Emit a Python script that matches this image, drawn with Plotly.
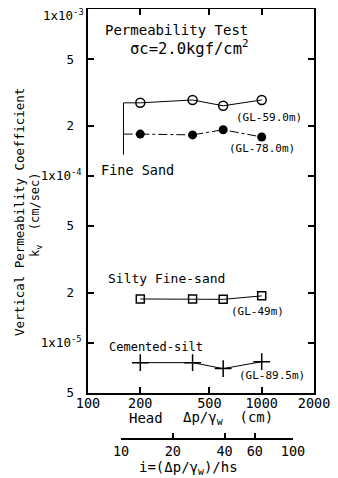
import plotly.graph_objects as go

# ---- data ----
head_cm = [200, 400, 600, 1000]
kv_gl59 = [2.74e-4, 2.85e-4, 2.63e-4, 2.85e-4]     # Fine sand, open circles
kv_gl78 = [1.78e-4, 1.76e-4, 1.89e-4, 1.71e-4]     # Fine sand, filled circles
kv_gl49 = [1.83e-5, 1.83e-5, 1.82e-5, 1.91e-5]     # Silty fine-sand, squares
kv_gl895 = [7.6e-6, 7.6e-6, 7.0e-6, 7.7e-6]        # Cemented-silt, crosses

bracket_head = 160          # Fine Sand bracket
bracket_kv_bottom = 1.34e-4

x_tickvals = [100, 200, 500, 1000, 2000]
x_ticktext = ["100", "200", "500", "1000", "2000"]
y_tickvals = [5e-6, 1e-5, 2e-5, 5e-5, 1e-4, 2e-4, 5e-4, 1e-3]
y_ticktext = ["5\u00a0", "1x10<sup>-5</sup>", "2\u00a0", "5\u00a0",
              "1x10<sup>-4</sup>", "2\u00a0", "5\u00a0", "1x10<sup>-3</sup>"]
i_tickvals = [10, 20, 40, 60, 100]
i_ticktext = ["10", "20", "40", "60", "100"]

FONT = "DejaVu Sans Mono"
OFF = 8                      # page body margin
W, H = 330, 470
L, T, B = 88 - OFF, 9 - OFF, 0
R = W - (314 - OFF)
PW, PH = W - L - R, H - T - B


def px(xp, yp):
    """reference-page pixels -> paper coordinates"""
    return (xp - OFF - L) / PW, (H - (yp - OFF)) / PH


fig = go.Figure()

line = dict(color="black", width=1)
# bracket for Fine Sand
fig.add_trace(go.Scatter(x=[head_cm[0], bracket_head, bracket_head],
                         y=[kv_gl59[0], kv_gl59[0], bracket_kv_bottom],
                         mode="lines", line=line, hoverinfo="skip"))
fig.add_trace(go.Scatter(x=[bracket_head, head_cm[0]], y=[kv_gl78[0], kv_gl78[0]],
                         mode="lines", line=dict(color="black", width=1, dash="dashdot"),
                         hoverinfo="skip"))

fig.add_trace(go.Scatter(x=head_cm, y=kv_gl59, mode="lines+markers", line=line,
                         marker=dict(symbol="circle-open", size=9, color="black",
                                     line=dict(width=1.5, color="black")), name="GL-59.0m"))
fig.add_trace(go.Scatter(x=head_cm, y=kv_gl78, mode="lines+markers",
                         line=dict(color="black", width=1, dash="dashdot"),
                         marker=dict(symbol="circle", size=9, color="black"), name="GL-78.0m"))
fig.add_trace(go.Scatter(x=head_cm, y=kv_gl49, mode="lines+markers", line=line,
                         marker=dict(symbol="square-open", size=8, color="black",
                                     line=dict(width=1.5, color="black")), name="GL-49m"))
fig.add_trace(go.Scatter(x=head_cm, y=kv_gl895, mode="lines+markers", line=line,
                         marker=dict(symbol="cross-thin-open", size=12, color="black",
                                     line=dict(width=1.5, color="black")), name="GL-89.5m"))
# invisible carrier so the hydraulic-gradient axis i = (Δp/γw)/hs is drawn
fig.add_trace(go.Scatter(x=i_tickvals, y=[0] * len(i_tickvals), xaxis="x2", yaxis="y2",
                         mode="markers", marker=dict(opacity=0), hoverinfo="skip"))

_, y0 = px(0, 393)
x2a, pos2 = px(121, 438)
x2b, _ = px(293, 438)

# the top tick label would fall outside the figure; draw it as an annotation instead
axis_ticktext = y_ticktext[:-1] + [""]

fig.update_layout(
    width=W, height=H, showlegend=False,
    margin=dict(l=L, r=R, t=T, b=B, autoexpand=False),
    paper_bgcolor="white", plot_bgcolor="white",
    font=dict(family=FONT, color="black", size=13),
    xaxis=dict(type="log", range=[2, 3.30103], domain=[0, 1], anchor="y",
               tickvals=x_tickvals, ticktext=x_ticktext, ticks="inside", ticklen=6,
               tickwidth=1.5, tickcolor="black", showline=True, linecolor="black",
               linewidth=2, mirror="ticks", showgrid=False, zeroline=False,
               ticklabelstandoff=-3, tickfont=dict(size=13.5, family=FONT)),
    yaxis=dict(type="log", range=[-5.30103, -3], domain=[y0, 1], anchor="x",
               tickvals=y_tickvals, ticktext=axis_ticktext, ticks="inside", ticklen=6,
               tickwidth=1.5, tickcolor="black", showline=True, linecolor="black",
               linewidth=2, mirror="ticks", showgrid=False, zeroline=False,
               ticklabelstandoff=2, tickfont=dict(size=12.5, family=FONT)),
    xaxis2=dict(type="log", range=[1, 2], domain=[x2a, x2b], anchor="y2",
                tickvals=i_tickvals, ticktext=i_ticktext,
                ticks="inside", ticklen=5, tickwidth=1.5, tickcolor="black",
                showline=True, linecolor="black", linewidth=1.5, showgrid=False,
                zeroline=False, tickfont=dict(size=13.5, family=FONT)),
    yaxis2=dict(domain=[pos2, pos2 + 0.02], anchor="x2", visible=False,
                range=[-1, 1], showgrid=False, zeroline=False),
)

ann = [
    ("Permeability Test", 103, 30, 14, "left"),
    ("σc=2.0kgf/cm<sup>2</sup>", 128, 48, 15.5, "left"),
    ("(GL-59.0m)", 234, 117, 11, "left"),
    ("(GL-78.0m)", 227, 148, 11, "left"),
    ("Fine Sand", 99, 170, 13.5, "left"),
    ("Silty Fine-sand", 106, 278, 13, "left"),
    ("(GL-49m)", 229, 311, 11, "left"),
    ("Cemented-silt", 107, 347, 12, "left"),
    ("(GL-89.5m)", 237, 375, 11, "left"),
    ("Head", 127, 418, 14, "left"),
    ("Δp/γ<sub>w</sub>  (cm)", 181, 418, 14, "left"),
    ("i=(Δp/γ<sub>w</sub>)/hs", 137, 468, 14, "left"),
]
for text, xp, yp, size, xa in ann:
    ax, ay = px(xp, yp)
    fig.add_annotation(text=text, x=ax, y=ay, xref="paper", yref="paper",
                       xanchor=xa, yanchor="middle", showarrow=False,
                       font=dict(size=size, family=FONT, color="black"))

ax, ay = px(86, 15)
fig.add_annotation(text=y_ticktext[-1], x=ax, y=ay, xref="paper", yref="paper",
                   xanchor="right", yanchor="middle", showarrow=False,
                   font=dict(size=12.5, family=FONT, color="black"))

for text, xp, yp, size in [("Vertical Permeability Coefficient", 19, 212, 12.5),
                           ("k<sub>v</sub>  (cm/sec)", 36, 215, 12)]:
    ax, ay = px(xp, yp)
    fig.add_annotation(text=text, x=ax, y=ay, xref="paper", yref="paper",
                       xanchor="center", yanchor="middle", showarrow=False, textangle=-90,
                       font=dict(size=size, family=FONT, color="black"))

fig.write_html("out.html")
